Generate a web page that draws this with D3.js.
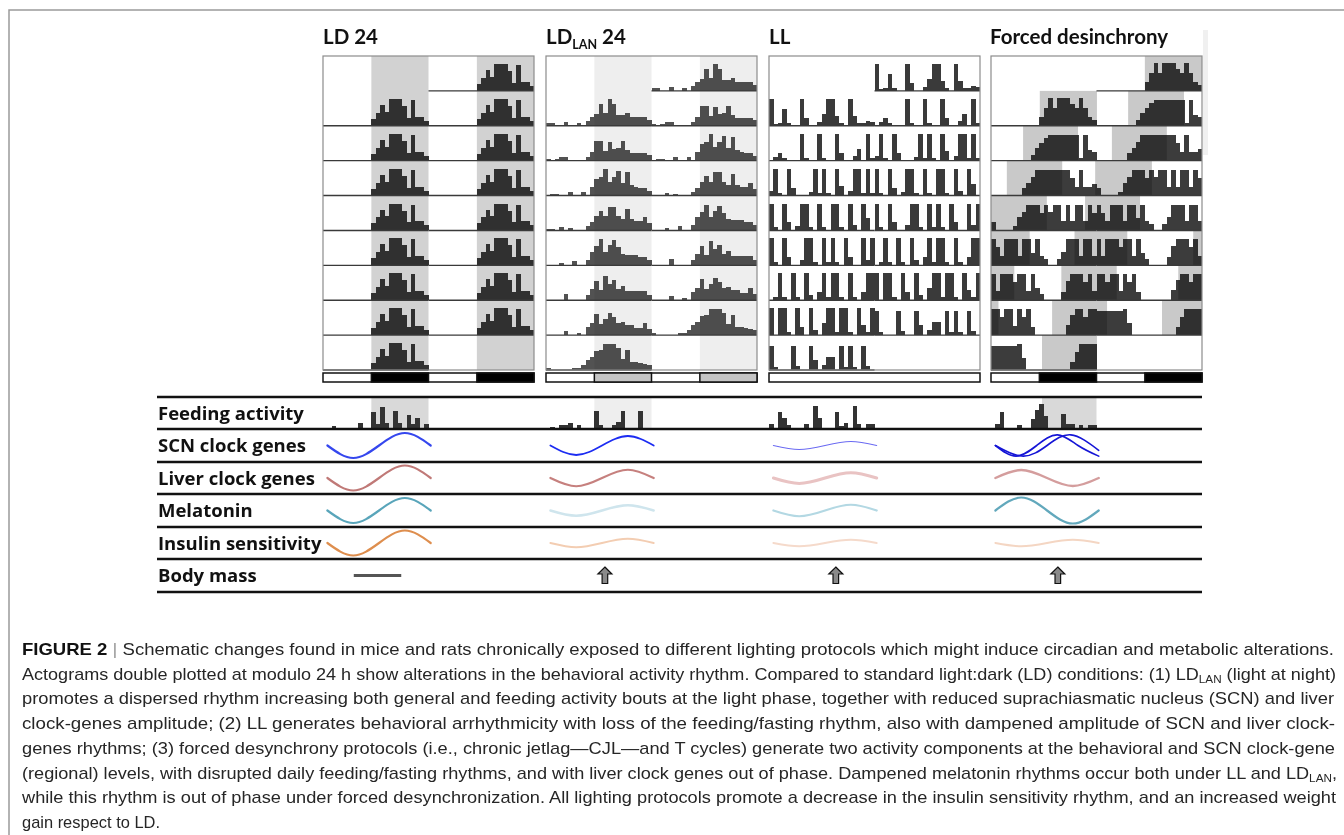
<!DOCTYPE html>
<html lang="en">
<head>
<meta charset="UTF-8"/>
<title>Lighting protocols: actograms and rhythms</title>
<script src="https://d3js.org/d3.v7.min.js"></script>
<style>
body { margin: 0; background: #fff; }
svg { display: block; }
text.title { font-family: Lato, 'Open Sans', sans-serif; font-weight: 700; font-size: 20.5px; fill: #111; }
text.rowlab { font-family: 'Open Sans', Lato, sans-serif; font-weight: 700; font-size: 18.5px; fill: #111; }
text.cap { font-family: 'Liberation Sans Narrow', 'Arial Narrow', 'Liberation Sans', sans-serif; font-size: 17px; fill: #262626; }
</style>
</head>
<body>
<svg width="1344" height="835"></svg>
<script>
// ---- data ----
const conditions = ['LD 24', 'LDLAN 24', 'LL', 'Forced desinchrony'];

// activity counts per hour (24 bins per day), 8 days per actogram
const ld24Bout = [0,0,0,0,0,0,0,0,0,0,0,7,13,21,14,27,27,27,20,8,26,9,9,5];
const ld24Days = d3.range(8).map(() => ld24Bout);

const ldlanDays = [
  [3,3,0,0,4,0,0,3,0,5,9,12,22,13,27,22,11,11,13,9,9,9,9,6],
  [2,0,2,4,4,0,0,0,0,4,9,20,20,10,19,12,13,20,11,8,8,8,8,6],
  [0,2,2,0,0,4,0,0,4,0,9,17,19,27,14,19,25,13,24,11,9,8,8,5],
  [1,1,0,3,0,2,0,0,0,4,8,14,20,14,24,24,14,11,22,11,9,9,13,7],
  [0,0,0,2,0,0,4,0,0,5,13,19,26,13,20,25,18,11,10,10,10,8,8,5],
  [0,0,0,0,6,0,0,0,0,5,11,19,10,24,16,20,11,14,9,9,9,9,9,5],
  [0,0,0,0,4,0,0,2,0,8,12,21,11,16,22,18,12,13,10,10,7,7,12,6],
  [2,0,0,0,0,0,2,2,5,10,13,19,20,26,26,26,22,11,20,8,8,7,6,5]
];

const llDays = [
  [27,2,3,17,3,0,0,27,8,0,0,4,12,27,27,10,3,0,27,10,3,3,5,4],
  [0,4,8,3,0,0,0,27,3,0,0,27,3,0,0,27,8,0,0,5,12,0,27,3],
  [5,27,3,0,27,8,0,0,0,4,27,3,27,3,0,27,10,0,5,27,27,3,27,3],
  [27,3,0,27,8,0,4,27,27,3,0,27,3,0,27,27,3,0,27,5,0,27,12,0],
  [27,3,0,27,8,0,0,5,27,27,3,0,27,3,27,3,0,27,8,0,0,27,5,27],
  [0,3,27,3,0,27,3,0,27,5,0,8,27,3,27,27,3,0,27,3,0,8,27,27],
  [27,0,27,27,3,0,27,8,0,27,5,0,12,27,27,3,27,27,3,0,27,10,3,27],
  [24,3,0,0,0,24,4,0,0,24,10,0,5,13,13,0,24,3,24,3,0,24,4,0]
];

const fdDays = [
  [0,0,0,0,0,0,0,0,0,0,0,9,18,28,18,28,28,28,22,18,28,18,9,6],
  [0,0,0,0,0,0,0,0,0,6,13,18,23,26,26,26,26,26,26,26,3,26,11,9],
  [0,0,0,0,0,0,0,8,13,19,26,26,26,26,26,26,26,26,18,9,26,9,9,12],
  [8,0,0,0,0,4,13,19,26,26,26,18,26,19,26,26,9,26,9,26,26,9,26,18],
  [26,18,9,26,26,26,9,26,26,12,26,9,6,0,0,6,13,26,26,26,9,26,26,9],
  [26,9,26,26,26,18,26,26,9,26,12,6,0,0,0,0,8,19,26,26,26,18,26,9],
  [26,26,18,26,26,9,26,18,26,8,0,0,0,0,0,0,0,10,20,26,26,18,26,26],
  [24,24,24,24,24,24,26,12,0,0,0,0,0,0,0,0,0,0,8,18,26,26,26,26]
];

// dark phase (hours on the 48 h double-plot axis)
const darkPhase = [[11, 24], [35, 48]];
// forced desynchrony: shaded dark phase per row
const fdShade = [
  [[35, 48]],
  [[11.1, 24.1], [31.2, 43.9]],
  [[7.3, 19.8], [27.5, 40]],
  [[3.6, 16.2], [23.7, 36.6]],
  [[0, 12.7], [21.4, 33.9]],
  [[0, 8.8], [19, 31], [46, 48]],
  [[0, 5.3], [16, 28.6], [42.6, 48]],
  [[0, 1.7], [13.9, 26.4], [38.9, 48]],
  [[11.6, 24.1]]
];

// feeding activity per hour (one day)
const feedLD = [0,0,2,0,0,0,0,0,5,0,0,16,4,21,5,0,17,5,0,13,4,10,0,4];
const feedLAN = [0,1,0,3,3,5,0,3,0,0,0,17,3,0,0,3,6,17,0,0,0,17,0,0];
const feedLL = [4,0,16,10,3,0,0,0,4,0,22,10,0,0,0,16,2,5,0,22,4,0,4,4];
const feedFD = [0,4,16,0,0,0,3,0,0,9,18,24,12,0,0,0,14,4,4,0,3,0,3,3];
const feedShade = [[11, 24], [11, 24], null, [11.6, 24]];

const rowLabels = ['Feeding activity', 'SCN clock genes', 'Liver clock genes', 'Melatonin', 'Insulin sensitivity', 'Body mass'];

// rhythm shapes (fraction of day, relative level)
const shapes = {
  std:  [[0,0],[0.25,-1],[0.5,0],[0.75,1],[1,0]],
  inv:  [[0,0],[0.25,1],[0.5,0],[0.75,-1],[1,0]],
  fast: [[0,0],[0.2,-1],[0.4,0],[0.6,1],[0.8,0],[1,-1]],
  late: [[0,0],[0.27,-1],[0.5,0],[0.73,1],[1,-0.45]]
};
const scnShape = [['std'], ['std'], ['std'], ['fast', 'late']];
const scnAmp = [1, 0.76, 0.32, 0.85];
const liverShape = [['std'], ['std'], ['std'], ['inv']];
const liverAmp = [1, 0.66, 0.43, 0.64];
const melShape = [['std'], ['std'], ['std'], ['inv']];
const melAmp = [1, 0.42, 0.46, 1.04];
const insShape = [['std'], ['std'], ['std'], ['std']];
const insAmp = [1, 0.34, 0.26, 0.26];

const bodyMass = [0, 1, 1, 1];           // 0 = unchanged, 1 = increase
const bodyMassHour = [12.4, 13.4, 15.2, 15.2];

const captionLines = [
  [['FIGURE 2', 'b'], [' | ', 'g'], ['Schematic changes found in mice and rats chronically exposed to different lighting protocols which might induce circadian and metabolic alterations.', '']],
  [['Actograms double plotted at modulo 24 h show alterations in the behavioral activity rhythm. Compared to standard light:dark (LD) conditions: (1) LD', ''], ['LAN', 's'], [' (light at night)', '']],
  [['promotes a dispersed rhythm increasing both general and feeding activity bouts at the light phase, together with reduced suprachiasmatic nucleus (SCN) and liver', '']],
  [['clock-genes amplitude; (2) LL generates behavioral arrhythmicity with loss of the feeding/fasting rhythm, also with dampened amplitude of SCN and liver clock-', '']],
  [['genes rhythms; (3) forced desynchrony protocols (i.e., chronic jetlag\u2014CJL\u2014and T cycles) generate two activity components at the behavioral and SCN clock-gene', '']],
  [['(regional) levels, with disrupted daily feeding/fasting rhythms, and with liver clock genes out of phase. Dampened melatonin rhythms occur both under LL and LD', ''], ['LAN', 's'], [',', '']],
  [['while this rhythm is out of phase under forced desynchronization. All lighting protocols promote a decrease in the insulin sensitivity rhythm, and an increased weight', '']],
  [['gain respect to LD.', '']]
];

// ---- layout ----
const svg = d3.select('svg');
svg.append('path').attr('d', 'M9,835V10H1344')
  .attr('fill', 'none').attr('stroke', '#9a9a9a').attr('stroke-width', 1.5);
svg.append('rect').attr('x', 1203).attr('y', 30).attr('width', 5).attr('height', 125).attr('fill', '#f0f0f0');

const panelX = [[323, 534], [546, 757], [769, 980], [991, 1202]];
const plotTop = 56, nRows = 9, plotBottom = 370;
const rowY = d3.scaleLinear().domain([0, nRows]).range([plotTop, plotBottom]);
const rowH = rowY(1) - rowY(0);
const act = d3.scaleLinear().domain([0, 35]).range([0, rowH]);

const allDays = [ld24Days, ldlanDays, llDays, fdDays];
const barFill = ['#3a3a3a', '#525252', '#3a3a3a', '#3c3c3c'];
const shadeFill = ['#d2d2d2', '#eeeeee', null, '#c9c9c9'];
const stripFill = ['#000', '#c4c4c4', null, '#000'];

const sepY = [397, 429, 462, 494, 527, 559, 592];
const feeds = [feedLD, feedLAN, feedLL, feedFD];
const feedBase = 428;

const scnColor = ['#3547ee', '#1c2cf2', '#6a6af2', '#1515d6'];
const scnWidth = [2.2, 1.8, 1.1, 1.6];
const liverColor = ['#c07977', '#c6807e', '#e9c3c3', '#d49d9d'];
const liverWidth = [2.2, 2.2, 3, 2.4];
const melColor = ['#59a5ba', '#cfe5ed', '#b3d8e3', '#62a8bc'];
const melWidth = [2.2, 2.4, 2.2, 2.2];
const insColor = ['#de8e4e', '#f3cdb2', '#f5dacb', '#f4d6c3'];
const insWidth = [2.2, 2, 2, 2];

const titles = svg.append('g');

panelX.forEach((px, p) => {
  const xs = d3.scaleLinear().domain([0, 48]).range(px);
  const bw = xs(1) - xs(0);
  const g = svg.append('g');
  const days = allDays[p];

  // title
  const t = titles.append('text').attr('class', 'title').attr('x', p === 3 ? px[0] - 1 : px[0]).attr('y', 43.5);
  if (p === 1) {
    t.append('tspan').text('LD');
    t.append('tspan').attr('dy', 5).style('font-size', '12.5px').text('LAN');
    t.append('tspan').attr('dy', -5).text(' 24');
  } else {
    t.text(conditions[p]);
  }

  g.append('rect').attr('x', px[0]).attr('y', plotTop).attr('width', px[1] - px[0])
    .attr('height', plotBottom - plotTop).attr('fill', '#fff');

  // bars (double plot: row r shows day r-1 | day r)
  const bars = [];
  for (let r = 0; r < nRows; r++) {
    [0, 1].forEach(h => {
      const d = r - 1 + h;
      if (d < 0 || d >= days.length) return;
      days[d].forEach((v, i) => { if (v > 0) bars.push({ r, h, i, v }); });
    });
  }
  g.selectAll('rect.bar').data(bars).join('rect').attr('class', 'bar')
    .attr('x', b => xs(b.h * 24 + b.i))
    .attr('width', bw + 0.15)
    .attr('y', b => rowY(b.r + 1) - act(b.v))
    .attr('height', b => act(b.v))
    .attr('fill', barFill[p])
    .attr('shape-rendering', 'crispEdges');

  // dark-phase shading
  if (p === 3) {
    const sh = [];
    fdShade.forEach((iv, r) => iv.forEach(s => sh.push({ r, s })));
    g.selectAll('rect.shade').data(sh).join('rect').attr('class', 'shade')
      .attr('x', d => xs(d.s[0])).attr('width', d => xs(d.s[1]) - xs(d.s[0]))
      .attr('y', d => rowY(d.r)).attr('height', rowH)
      .attr('fill', shadeFill[p]).style('mix-blend-mode', 'multiply');
  } else if (shadeFill[p]) {
    g.selectAll('rect.shade').data(darkPhase).join('rect').attr('class', 'shade')
      .attr('x', d => xs(d[0])).attr('width', d => xs(d[1]) - xs(d[0]))
      .attr('y', plotTop).attr('height', plotBottom - plotTop)
      .attr('fill', shadeFill[p]).style('mix-blend-mode', 'multiply');
  }

  // baselines
  const bases = [];
  for (let r = 0; r < nRows; r++) {
    [0, 1].forEach(h => {
      const d = r - 1 + h;
      if (d >= 0 && d < days.length) bases.push({ r, h });
    });
  }
  g.selectAll('line.base').data(bases).join('line').attr('class', 'base')
    .attr('x1', b => xs(b.h * 24)).attr('x2', b => xs(b.h * 24 + 24))
    .attr('y1', b => rowY(b.r + 1)).attr('y2', b => rowY(b.r + 1))
    .attr('stroke', '#3a3a3a').attr('stroke-width', 1.4);

  g.append('rect').attr('x', px[0]).attr('y', plotTop).attr('width', px[1] - px[0])
    .attr('height', plotBottom - plotTop).attr('fill', 'none').attr('stroke', '#8c8c8c').attr('stroke-width', 1.2);

  // light/dark strip
  g.append('rect').attr('x', px[0]).attr('y', 373).attr('width', px[1] - px[0]).attr('height', 9)
    .attr('fill', '#fff').attr('stroke', '#111').attr('stroke-width', 1.5);
  if (stripFill[p]) {
    g.selectAll('rect.strip').data(darkPhase).join('rect').attr('class', 'strip')
      .attr('x', d => xs(d[0])).attr('width', d => xs(d[1]) - xs(d[0]))
      .attr('y', 373).attr('height', 9)
      .attr('fill', stripFill[p]).attr('stroke', '#111').attr('stroke-width', 1.5);
  }

  // feeding activity
  const fs = feedShade[p];
  if (fs) {
    g.append('rect').attr('x', xs(fs[0])).attr('width', xs(fs[1]) - xs(fs[0]))
      .attr('y', sepY[0]).attr('height', feedBase - sepY[0])
      .attr('fill', p === 1 ? '#eeeeee' : '#d9d9d9');
  }
  g.selectAll('rect.feed').data(feeds[p].map((v, i) => ({ v, i })).filter(d => d.v > 0))
    .join('rect').attr('class', 'feed')
    .attr('x', d => xs(d.i)).attr('width', bw + 0.15)
    .attr('y', d => feedBase - act(d.v)).attr('height', d => act(d.v))
    .attr('fill', '#333').attr('shape-rendering', 'crispEdges');

  // rhythm curves (drawn over the left-half day)
  const tx = d3.scaleLinear().domain([0, 1]).range([xs(1), xs(24.5)]);
  const rhythms = [
    [scnShape, scnAmp, scnColor, scnWidth],
    [liverShape, liverAmp, liverColor, liverWidth],
    [melShape, melAmp, melColor, melWidth],
    [insShape, insAmp, insColor, insWidth]
  ];
  rhythms.forEach(([shp, amp, col, wid], k) => {
    const cy = (sepY[k + 1] + sepY[k + 2]) / 2;
    const yy = d3.scaleLinear().domain([-1, 1]).range([cy + 12.5 * amp[p], cy - 12.5 * amp[p]]);
    const line = d3.line().x(d => tx(d[0])).y(d => yy(d[1])).curve(d3.curveNatural);
    shp[p].forEach(name => {
      g.append('path').attr('d', line(shapes[name]))
        .attr('fill', 'none').attr('stroke', col[p]).attr('stroke-width', wid[p])
        .attr('stroke-linecap', 'round');
    });
  });

  // body mass
  const by = (sepY[5] + sepY[6]) / 2;
  const bx = xs(bodyMassHour[p]);
  if (bodyMass[p] === 0) {
    g.append('line').attr('x1', xs(bodyMassHour[p] - 5.4)).attr('x2', xs(bodyMassHour[p] + 5.4))
      .attr('y1', by).attr('y2', by).attr('stroke', '#555').attr('stroke-width', 3);
  } else {
    const arrow = d3.path();
    arrow.moveTo(bx, by - 8.5); arrow.lineTo(bx + 7, by - 1.5); arrow.lineTo(bx + 2.8, by - 1.5);
    arrow.lineTo(bx + 2.8, by + 8); arrow.lineTo(bx - 2.8, by + 8); arrow.lineTo(bx - 2.8, by - 1.5);
    arrow.lineTo(bx - 7, by - 1.5); arrow.closePath();
    g.append('path').attr('d', arrow.toString()).attr('fill', '#8a8a8a')
      .attr('stroke', '#111').attr('stroke-width', 1.2).attr('stroke-linejoin', 'miter');
  }
});

// table separators and labels
svg.selectAll('line.sep').data(sepY).join('line').attr('class', 'sep')
  .attr('x1', 157).attr('x2', 1202).attr('y1', d => d).attr('y2', d => d)
  .attr('stroke', '#111').attr('stroke-width', 2.6);
svg.selectAll('text.rowlab').data(rowLabels).join('text').attr('class', 'rowlab')
  .attr('x', 158).attr('y', (d, i) => (sepY[i] + sepY[i + 1]) / 2 + 6.5)
  .text(d => d);

// caption
const capEnd = [1334, 1336, 1334, 1335, 1335, 1337, 1336, 160];
captionLines.forEach((segs, li) => {
  const t = svg.append('text').attr('class', 'cap').attr('x', 22).attr('y', 655 + li * 24.7);
  let prevSub = false;
  segs.forEach(([s, k]) => {
    const ts = t.append('tspan').text(s);
    if (k === 'b') ts.style('font-weight', 700).style('fill', '#111');
    if (k === 'g') ts.style('fill', '#999');
    if (k === 's') { ts.attr('dy', 3.5).style('font-size', '11px'); prevSub = true; }
    else if (prevSub) { ts.attr('dy', -3.5); prevSub = false; }
  });
  t.attr('textLength', capEnd[li] - 22).attr('lengthAdjust', 'spacingAndGlyphs');
});
</script>
</body>
</html>
